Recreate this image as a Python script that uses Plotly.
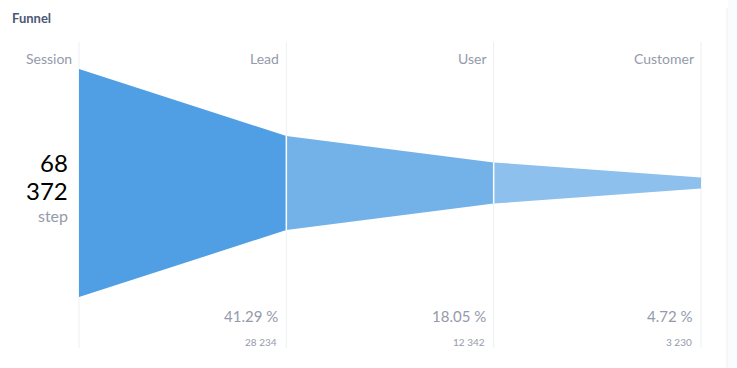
import plotly.graph_objects as go

steps = ["Session", "Lead", "User", "Customer"]
values = [68372, 28234, 12342, 3230]
fill_colors = ["#509EE3", "#73B1E9", "#8DC0ED"]

W, H = 737, 368
x0_px, x3_px = 79, 701
px_per_x = (x3_px - x0_px) / 3
center_px = 183
px_per_unit = 228 / values[0]

x_range = [-x0_px / px_per_x, (W - x0_px) / px_per_x]
y_range = [-(H - center_px) / px_per_unit, center_px / px_per_unit]

fig = go.Figure()

for i in range(len(steps) - 1):
    a, b = values[i], values[i + 1]
    xs = [i, i + 1, i + 1, i, i]
    ys = [a / 2, b / 2, -b / 2, -a / 2, a / 2]
    fig.add_trace(go.Scatter(x=xs, y=ys, fill="toself", mode="lines",
                             line=dict(width=0), fillcolor=fill_colors[i],
                             hoverinfo="skip", showlegend=False))

shapes = []
for i in range(len(steps)):
    shapes.append(dict(type="line", xref="x", yref="paper", x0=i, x1=i,
                       y0=1 - 42 / H, y1=1 - 348 / H,
                       line=dict(color="#EDEFF2", width=1), layer="below"))
for i in range(1, len(steps) - 1):
    shapes.append(dict(type="line", xref="x", yref="y", x0=i, x1=i,
                       y0=values[i] / 2, y1=-values[i] / 2,
                       line=dict(color="#FFFFFF", width=1.5), layer="above"))
shapes.append(dict(type="rect", xref="paper", yref="paper", x0=728 / W, x1=1,
                   y0=0, y1=1, fillcolor="#F9FBFC", line=dict(width=0), layer="below"))
shapes.append(dict(type="line", xref="paper", yref="paper", x0=727 / W, x1=727 / W,
                   y0=0, y1=1 - 8 / H, line=dict(color="#EBEEF2", width=1), layer="below"))

annotations = []
grey = "#949AAB"
annotations.append(dict(text="<b>Funnel</b>", xref="paper", yref="paper",
                        x=10 / W, y=1 - 18 / H, xanchor="left", yanchor="middle",
                        showarrow=False, font=dict(family="Lato", size=13, color="#4C5773")))
for i, s in enumerate(steps):
    annotations.append(dict(text=s, xref="x", yref="paper", x=i, y=1 - 58 / H,
                            xanchor="right", yanchor="middle", xshift=-5, showarrow=False,
                            font=dict(family="Lato", size=14, color=grey)))
    if i > 0:
        pct = values[i] / values[0] * 100
        annotations.append(dict(text=f"{pct:.2f} %", xref="x", yref="paper", x=i,
                                y=1 - 316 / H, xanchor="right", yanchor="middle",
                                xshift=-6, showarrow=False,
                                font=dict(family="Lato", size=15, color=grey)))
        cnt = f"{values[i]:,}".replace(",", " ")
        annotations.append(dict(text=cnt, xref="x", yref="paper", x=i,
                                y=1 - 342 / H, xanchor="right", yanchor="middle",
                                xshift=-7, showarrow=False,
                                font=dict(family="Lato", size=10, color=grey)))

first = f"{values[0]:,}".split(",")
annotations.append(dict(text=first[0], xref="paper", yref="paper", x=70 / W,
                        y=1 - 162 / H, xanchor="right", yanchor="middle", showarrow=False,
                        font=dict(family="Lato", size=24, color="#000000")))
annotations.append(dict(text=first[1], xref="paper", yref="paper", x=70 / W,
                        y=1 - 190 / H, xanchor="right", yanchor="middle", showarrow=False,
                        font=dict(family="Lato", size=24, color="#000000")))
annotations.append(dict(text="step", xref="paper", yref="paper", x=70 / W,
                        y=1 - 215 / H, xanchor="right", yanchor="middle", showarrow=False,
                        font=dict(family="Lato", size=16, color=grey)))

fig.update_layout(
    width=W, height=H,
    margin=dict(l=0, r=0, t=0, b=0),
    paper_bgcolor="#FFFFFF", plot_bgcolor="rgba(0,0,0,0)",
    xaxis=dict(range=x_range, visible=False, fixedrange=True),
    yaxis=dict(range=y_range, visible=False, fixedrange=True),
    shapes=shapes, annotations=annotations,
    showlegend=False,
)

fig.write_html("out.html", config={"displayModeBar": False})
